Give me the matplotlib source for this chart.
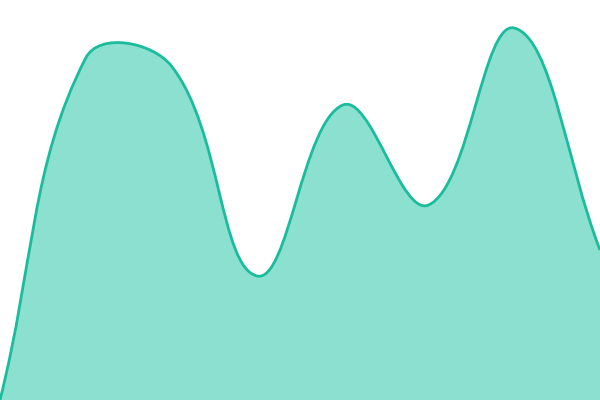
import matplotlib
matplotlib.use("Agg")
import matplotlib.pyplot as plt
import numpy as np
from matplotlib.path import Path
from matplotlib.patches import PathPatch

# data
categories = [0, 1, 2, 3, 4, 5, 6, 7]
values = [0, 342, 334, 124, 295, 195, 372, 150]

LINE = "#1abc9c"
FILL = "#8be0cf"
TENSION = 0.4

fig = plt.figure(figsize=(6, 4), dpi=100)
ax = fig.add_axes([0, 0, 1, 1])
ax.set_xlim(0, 7)
ax.set_ylim(0, 400)
ax.axis("off")

# points in pixel space through the axes transform
data_pts = np.column_stack([np.array(categories, float), np.array(values, float)])
pix = ax.transData.transform(data_pts)
inv = ax.transData.inverted()
n = len(pix)

cp_prev = np.zeros_like(pix)
cp_next = np.zeros_like(pix)
for i in range(n):
    prev = pix[i - 1] if i > 0 else pix[i]
    cur = pix[i]
    nxt = pix[i + 1] if i < n - 1 else pix[i]
    d01 = np.hypot(*(cur - prev))
    d12 = np.hypot(*(nxt - cur))
    tot = d01 + d12
    s01 = d01 / tot if tot else 0.0
    s12 = d12 / tot if tot else 0.0
    fa, fb = TENSION * s01, TENSION * s12
    cp_prev[i] = cur - fa * (nxt - prev)
    cp_next[i] = cur + fb * (nxt - prev)

# cap control points to the plot area
x0, y0 = ax.transData.transform((0, 0))
x1, y1 = ax.transData.transform((7, 400))
for arr in (cp_prev, cp_next):
    arr[:, 0] = np.clip(arr[:, 0], min(x0, x1), max(x0, x1))
    arr[:, 1] = np.clip(arr[:, 1], min(y0, y1), max(y0, y1))

verts_pix = [pix[0]]
codes = [Path.MOVETO]
for i in range(n - 1):
    verts_pix += [cp_next[i], cp_prev[i + 1], pix[i + 1]]
    codes += [Path.CURVE4] * 3
verts = [tuple(v) for v in inv.transform(np.array(verts_pix))]

line_path = Path(verts, codes)
fill_verts = verts + [(categories[-1], 0), (categories[0], 0), verts[0]]
fill_codes = codes + [Path.LINETO, Path.LINETO, Path.CLOSEPOLY]
fill_path = Path(fill_verts, fill_codes)

ax.add_patch(PathPatch(fill_path, facecolor=FILL, edgecolor="none"))
ax.add_patch(PathPatch(line_path, facecolor="none", edgecolor=LINE, lw=2.0,
                       capstyle="butt", joinstyle="round"))

fig.savefig("out.png", dpi=100)
